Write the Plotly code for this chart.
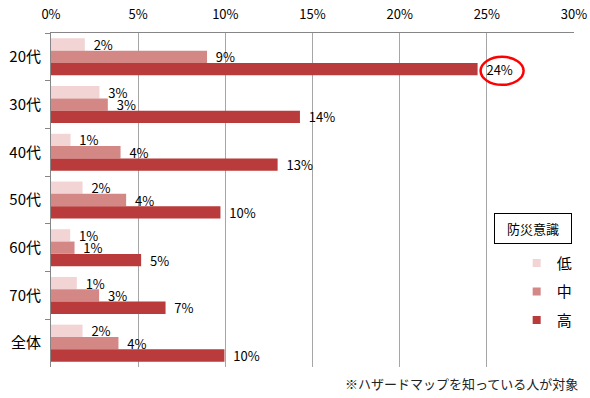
import plotly.graph_objects as go

categories = ["20代", "30代", "40代", "50代", "60代", "70代", "全体"]
series_names = ["低", "中", "高"]
low = [1.94, 2.78, 1.12, 1.81, 1.10, 1.48, 1.81]
mid = [8.95, 3.26, 3.99, 4.31, 1.35, 2.76, 3.87]
high = [24.47, 14.28, 13.00, 9.72, 5.17, 6.57, 9.95]
x_ticks = [0, 5, 10, 15, 20, 25, 30]
x_tick_labels = ["0%", "5%", "10%", "15%", "20%", "25%", "30%"]
legend_title = "防災意識"
footnote = "※ハザードマップを知っている人が対象"

colors = ["#f2d4d5", "#d48886", "#b93b3b"]
FONT = "Noto Sans CJK JP"

fig = go.Figure()
for name, vals, col in zip(series_names, [low, mid, high], colors):
    fig.add_trace(go.Bar(
        y=categories, x=vals, orientation="h", name=name,
        marker=dict(color=col, line=dict(width=0)),
        texttemplate="  %{x:.0f}%", textposition="outside",
        constraintext="none", cliponaxis=False,
        textfont=dict(size=13, color="black", family=FONT),
        showlegend=False, hoverinfo="x+name",
    ))
    fig.add_trace(go.Scatter(
        x=[None], y=[None], mode="markers", name=name,
        marker=dict(symbol="square", size=8, color=col),
        legendgroup=name,
    ))

# highlight the maximum value label
imax = max(range(len(high)), key=lambda i: high[i])
fig.add_shape(
    type="circle", xref="x", yref="y",
    xsizemode="pixel", ysizemode="pixel",
    xanchor=high[imax], yanchor=imax,
    x0=3, x1=46, y0=-28, y1=0,
    line=dict(color="#ff0000", width=2.5),
)

fig.add_annotation(
    text=legend_title, xref="paper", yref="paper",
    x=0.9217, y=0.4155, xanchor="center", yanchor="middle",
    showarrow=False, width=74, height=27,
    bordercolor="black", borderwidth=1, bgcolor="white",
    font=dict(size=13, color="black", family=FONT),
)
fig.add_annotation(
    text=footnote, xref="paper", yref="paper",
    x=1.0115, y=-0.049, xanchor="right", yanchor="middle",
    showarrow=False, font=dict(size=13, color="#222222", family=FONT),
)

fig.update_layout(
    width=590, height=398,
    margin=dict(l=50.5, r=16, t=33, b=30.5),
    paper_bgcolor="white", plot_bgcolor="white",
    barmode="group", bargap=0.225, bargroupgap=0,
    font=dict(family=FONT, color="black"),
    legend=dict(
        x=0.8904, y=0.36, xanchor="left", yanchor="top",
        font=dict(size=15, family=FONT), tracegroupgap=6,
        bgcolor="rgba(0,0,0,0)",
    ),
    xaxis=dict(
        side="top", range=[0, 30], tickmode="array",
        tickvals=x_ticks, ticktext=x_tick_labels,
        showgrid=True, gridcolor="#a6a6a6", gridwidth=1,
        showline=True, linecolor="#868686", linewidth=1,
        ticks="", ticklabelstandoff=8, automargin=False,
        tickfont=dict(size=13, family=FONT, color="black"),
        zeroline=False, fixedrange=True,
    ),
    yaxis=dict(
        range=[len(categories) - 0.5, -0.5], autorange=False,
        showgrid=False,
        showline=True, linecolor="#868686", linewidth=1,
        ticks="outside", ticklen=5, tickcolor="#868686", tickson="boundaries",
        tickfont=dict(size=15, family=FONT, color="black"),
        ticklabelstandoff=6, automargin=False,
        fixedrange=True,
    ),
)

fig.write_html(
    "out.html",
    config={"displayModeBar": False},
    post_script="document.body.style.margin='0';document.body.style.overflow='hidden';",
)
